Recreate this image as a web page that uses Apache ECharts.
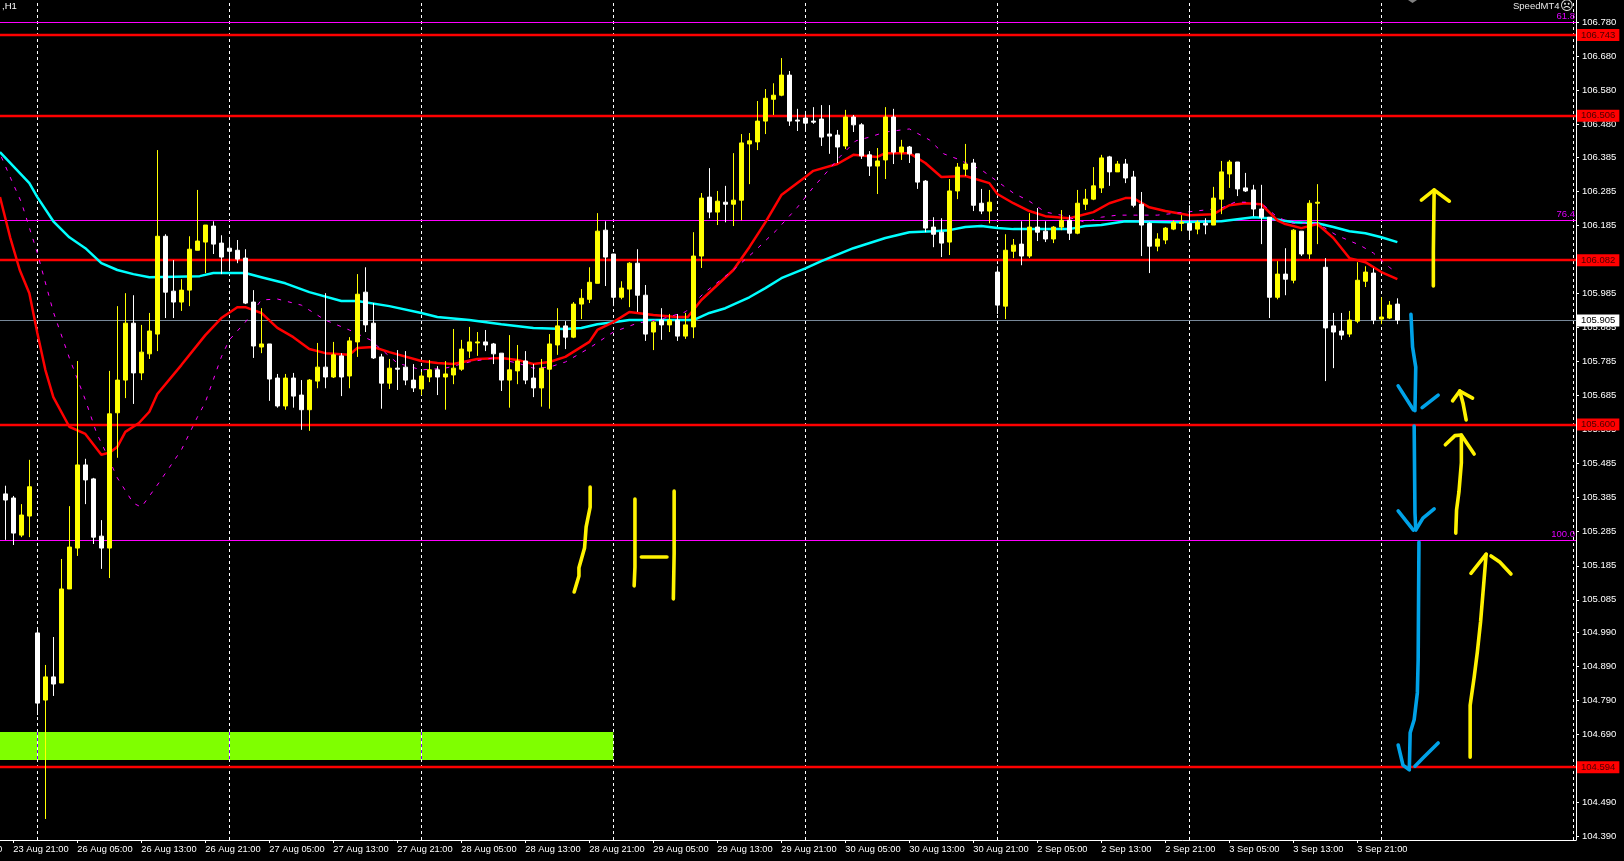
<!DOCTYPE html>
<html><head><meta charset="utf-8">
<style>html,body{margin:0;padding:0;background:#000}#c{width:1624px;height:861px}</style>
<script src="https://cdn.jsdelivr.net/npm/echarts@6/dist/echarts.min.js"></script>
</head><body><div id="c"></div>
<script>
const opens=[105.396,105.384,105.275,105.331,104.988,104.791,104.859,104.841,105.117,105.237,
105.481,105.440,105.272,105.237,105.634,105.730,105.897,105.751,105.807,105.865,
106.152,105.991,105.959,105.994,106.111,106.135,106.182,106.132,106.117,106.111,
106.088,105.959,105.827,105.836,105.736,105.654,105.736,105.686,105.643,105.727,
105.768,105.739,105.801,105.742,105.842,105.988,105.897,105.798,105.721,105.765,
105.768,105.730,105.704,105.739,105.760,105.739,105.745,105.762,105.815,105.839,
105.842,105.836,105.809,105.730,105.757,105.786,105.736,105.707,105.762,105.833,
105.889,105.856,105.953,105.967,106.014,106.170,106.100,105.973,105.997,106.073,
105.979,105.871,105.906,105.892,105.906,105.859,105.886,106.094,106.267,106.223,
106.252,106.246,106.258,106.423,106.429,106.490,106.554,106.566,106.625,106.493,
106.499,106.490,106.496,106.452,106.449,106.417,106.502,106.479,106.391,106.358,
106.376,106.502,106.399,106.414,106.394,106.314,106.179,106.164,106.135,106.285,
106.349,106.367,106.249,106.226,106.047,105.947,106.108,106.129,106.094,106.179,
106.167,106.144,106.179,106.199,106.161,106.246,106.261,106.294,106.385,106.341,
106.364,106.326,106.246,106.190,106.123,106.141,106.173,106.190,106.190,106.173,
106.190,106.185,106.261,106.335,106.370,106.294,106.288,106.232,106.208,105.973,
106.041,106.023,106.167,106.100,106.249,106.061,105.889,105.874,105.865,105.903,
106.020,106.044,105.909,105.912,105.953];
const closes=[105.378,105.281,105.334,105.417,104.782,104.859,104.838,105.117,105.240,105.481,
105.437,105.269,105.237,105.631,105.730,105.897,105.751,105.812,105.874,106.152,
105.988,105.959,105.994,106.114,106.138,106.185,106.129,106.091,106.108,106.085,
105.956,105.830,105.836,105.733,105.654,105.736,105.683,105.643,105.730,105.768,
105.739,105.804,105.739,105.845,105.982,105.892,105.795,105.721,105.765,105.762,
105.730,105.707,105.742,105.760,105.739,105.748,105.765,105.821,105.842,105.842,
105.833,105.807,105.730,105.760,105.786,105.730,105.707,105.765,105.836,105.889,
105.856,105.953,105.970,106.017,106.167,106.091,105.973,106.000,106.073,105.979,
105.865,105.900,105.892,105.906,105.859,105.892,106.094,106.264,106.223,106.255,
106.246,106.258,106.426,106.432,106.490,106.557,106.566,106.625,106.490,106.490,
106.484,106.487,106.443,106.446,106.414,106.502,106.479,106.388,106.358,106.373,
106.502,106.399,106.414,106.394,106.311,106.176,106.158,106.132,106.285,106.355,
106.364,106.243,106.226,106.252,105.950,106.111,106.126,106.094,106.179,106.164,
106.144,106.179,106.199,106.161,106.249,106.261,106.300,106.382,106.341,106.364,
106.323,106.243,106.185,106.123,106.144,106.176,106.193,106.193,106.170,106.193,
106.185,106.264,106.341,106.370,106.291,106.285,106.232,106.208,105.973,106.041,
106.026,106.170,106.100,106.249,106.252,105.883,105.871,105.862,105.906,106.023,
106.047,105.906,105.915,105.950,105.906];
const highs=[105.420,105.390,105.366,105.496,105.003,104.894,104.976,105.205,105.360,105.786,
105.499,105.443,105.319,105.757,105.947,105.985,105.979,105.892,105.927,106.405,
106.158,106.082,106.026,106.152,106.288,106.185,106.196,106.155,106.141,106.141,
106.114,105.994,105.941,105.836,105.748,105.748,105.751,105.730,105.733,105.839,
105.985,105.842,105.809,105.856,106.041,106.061,105.956,105.807,105.792,105.818,
105.815,105.777,105.754,105.789,105.771,105.786,105.880,105.848,105.886,105.871,
105.877,105.839,105.809,105.862,105.833,105.815,105.777,105.792,105.865,105.941,
105.903,105.959,105.997,106.061,106.220,106.196,106.100,106.020,106.076,106.114,
106.009,105.903,105.941,105.924,105.924,105.927,106.164,106.279,106.352,106.285,
106.300,106.396,106.452,106.455,106.549,106.584,106.601,106.675,106.637,106.526,
106.520,106.531,106.537,106.537,106.464,106.523,106.508,106.484,106.402,106.411,
106.531,106.526,106.435,106.417,106.394,106.317,106.208,106.205,106.320,106.367,
106.423,106.379,106.291,106.288,106.064,106.158,106.144,106.196,106.220,106.235,
106.196,106.182,106.229,106.214,106.288,106.291,106.355,106.391,106.388,106.373,
106.379,106.344,106.282,106.193,106.161,106.179,106.199,106.214,106.243,106.199,
106.205,106.297,106.373,106.376,106.370,106.338,106.303,106.303,106.208,106.079,
106.117,106.173,106.167,106.258,106.305,106.088,105.927,105.927,105.933,106.076,
106.064,106.058,105.973,105.962,105.970];
const lows=[105.261,105.246,105.269,105.269,104.747,104.442,104.803,104.841,105.117,105.214,
105.366,105.249,105.176,105.149,105.502,105.677,105.660,105.730,105.792,105.815,
105.912,105.912,105.933,105.947,106.111,106.044,106.100,106.041,106.050,106.073,
105.953,105.795,105.809,105.669,105.649,105.643,105.649,105.584,105.581,105.706,
105.706,105.736,105.683,105.706,105.798,105.871,105.792,105.646,105.704,105.701,
105.715,105.695,105.686,105.724,105.686,105.643,105.718,105.757,105.795,105.801,
105.815,105.777,105.698,105.649,105.718,105.718,105.680,105.652,105.646,105.804,
105.821,105.853,105.909,105.956,106.014,106.006,105.947,105.967,105.944,105.930,
105.845,105.818,105.848,105.871,105.845,105.851,105.853,106.059,106.205,106.185,
106.193,106.182,106.199,106.305,106.405,106.452,106.508,106.563,106.476,106.461,
106.458,106.482,106.417,106.394,106.367,106.408,106.458,106.379,106.329,106.276,
106.320,106.364,106.376,106.367,106.291,106.164,106.120,106.091,106.097,106.261,
106.329,106.226,106.217,106.190,105.924,105.909,106.088,106.067,106.088,106.138,
106.135,106.132,106.170,106.141,106.158,106.229,106.258,106.279,106.300,106.341,
106.308,106.237,106.094,106.044,106.108,106.129,106.170,106.167,106.141,106.158,
106.158,106.185,106.217,106.294,106.270,106.282,106.211,106.129,105.912,105.967,
105.979,106.014,106.094,106.085,106.129,105.727,105.765,105.848,105.856,105.897,
106.003,105.894,105.894,105.909,105.894];

const maCyan=[[-0.67,106.399],[3,106.308],[4,106.267],[6,106.196],[8,106.149],[10,106.117],[12,106.073],[14,106.053],[16,106.041],[18,106.032],[24.3,106.035],[26,106.044],[30,106.044],[32,106.032],[35,106.014],[38,105.988],[42,105.962],[44,105.962],[48,105.947],[52,105.927],[54,105.915],[58,105.906],[62,105.894],[66,105.883],[70,105.880],[72,105.883],[74,105.894],[76,105.900],[78,105.906],[84,105.906],[86,105.906],[88,105.927],[90,105.941],[93,105.973],[95,106.000],[97,106.029],[100,106.058],[102,106.079],[106,106.117],[110,106.147],[113,106.164],[116,106.167],[118,106.170],[120,106.179],[122,106.182],[124,106.176],[126,106.173],[130,106.173],[133,106.173],[135,106.182],[137,106.185],[140,106.196],[146,106.193],[152,106.196],[156,106.208],[158,106.205],[161,106.193],[164,106.190],[166,106.179],[168,106.167],[170,106.161],[172,106.149],[174,106.135]];
const maRed=[[-0.67,106.267],[0.6,106.149],[1.8,106.053],[3,105.985],[4,105.868],[5,105.760],[6,105.680],[8,105.593],[10,105.572],[12,105.511],[13,105.517],[14,105.534],[15,105.578],[16.7,105.604],[18,105.637],[19,105.689],[22,105.774],[25,105.862],[27,105.912],[29,105.944],[30,105.944],[32,105.927],[34,105.883],[36,105.856],[38,105.821],[40,105.809],[43,105.804],[44,105.824],[46,105.827],[48,105.812],[52,105.786],[54,105.780],[56,105.777],[59,105.792],[62,105.795],[64,105.789],[66,105.777],[68,105.783],[70,105.798],[73,105.842],[74,105.877],[76,105.900],[78,105.930],[81,105.921],[84,105.915],[85.3,105.915],[87,105.965],[91,106.053],[93,106.120],[95,106.193],[97,106.273],[100,106.326],[101,106.344],[104,106.364],[106,106.391],[109,106.385],[110,106.396],[113,106.396],[115,106.367],[117,106.326],[120,106.329],[123,106.308],[124,106.276],[126,106.249],[128,106.226],[130,106.211],[133,106.205],[134,106.211],[136,106.223],[138,106.249],[140,106.264],[141,106.264],[143,106.237],[145,106.226],[148,106.214],[151,106.217],[153,106.243],[155,106.249],[157,106.246],[159,106.199],[160,106.188],[162,106.176],[164,106.188],[166,106.147],[168,106.088],[170,106.076],[172,106.047],[174,106.026]];
const maMagenta=[[-0.5,106.385],[0.6,106.326],[2,106.252],[4,106.103],[6,105.930],[8,105.795],[10,105.672],[11.4,105.575],[12.7,105.511],[14,105.443],[16,105.369],[17,105.357],[19,105.422],[22,105.525],[24,105.621],[25,105.665],[27,105.798],[28,105.848],[30,105.900],[32,105.965],[34,105.968],[37,105.950],[40,105.906],[43,105.877],[45.6,105.848],[49,105.780],[52,105.760],[55,105.765],[58,105.783],[61,105.795],[64,105.780],[66,105.765],[68,105.768],[70,105.783],[73,105.824],[76,105.871],[79,105.897],[82,105.909],[85,105.930],[87.3,105.985],[91,106.053],[93.5,106.105],[96.4,106.170],[99,106.237],[101,106.296],[102.7,106.341],[104.3,106.385],[106.3,106.432],[108,106.443],[110,106.458],[113,106.467],[115.5,106.435],[117.3,106.394],[119,106.379],[122,106.347],[124.3,106.308],[126,106.279],[128,106.255],[130,106.223],[132,106.214],[135,106.193],[137,106.208],[139,106.214],[144,106.214],[148.8,106.226],[152,106.235],[153.7,106.252],[155,106.252],[157.3,106.243],[159,106.208],[161,106.190],[164,106.190],[166.4,106.155],[169.3,106.126],[171,106.103],[173,106.061],[174,106.044]];

const redLevels=[106.743,106.506,106.082,105.600,104.594];
const fibLevels=[[106.780,'61.8'],[106.198,'76.4'],[105.261,'100.0']];
const lastPrice=105.905;
const zoneTop=104.697, zoneBottom=104.615, zoneEndBar=76;
const sessionBars=[4,28,52,76,100,124,148,172,196];
const zoneSessionBars=[4,28,52];
const priceTicks=[106.780,106.680,106.580,106.480,106.385,106.285,106.185,106.085,105.985,105.885,105.785,105.685,105.585,105.485,105.385,105.285,105.185,105.085,104.990,104.890,104.790,104.690,104.490,104.390];
const timeLabels=['23 Aug 21:00','26 Aug 05:00','26 Aug 13:00','26 Aug 21:00','27 Aug 05:00','27 Aug 13:00','27 Aug 21:00','28 Aug 05:00','28 Aug 13:00','28 Aug 21:00','29 Aug 05:00','29 Aug 13:00','29 Aug 21:00','30 Aug 05:00','30 Aug 13:00','30 Aug 21:00','2 Sep 05:00','2 Sep 13:00','2 Sep 21:00','3 Sep 05:00','3 Sep 13:00','3 Sep 21:00'];
const timeTickBars=[1,9,17,25,33,41,49,57,65,73,81,89,97,105,113,121,129,137,145,153,161,169];

const blueStrokes=[
[[175.7,105.923],[175.9,105.827],[176.3,105.768],[176.2,105.640]],
[[174.1,105.713],[176.0,105.643]],
[[177.1,105.649],[179.1,105.686]],
[[176.1,105.595],[176.2,105.340],[176.3,105.293]],
[[174.1,105.346],[176.0,105.290]],
[[176.3,105.290],[177.2,105.325],[178.6,105.352]],
[[176.7,105.255],[176.6,104.909],[176.5,104.812],[176.1,104.733],[175.6,104.695],[175.5,104.592]],
[[174.1,104.659],[174.7,104.600],[175.5,104.586]],
[[176.2,104.597],[177.2,104.621],[179.1,104.665]]];
const yellowStrokes=[
[[178.5,106.006],[178.5,106.105],[178.6,106.288]],
[[177.0,106.258],[178.6,106.288],[180.5,106.255]],
[[182.6,105.613],[182.2,105.663],[181.8,105.698]],
[[180.9,105.669],[181.8,105.698],[183.4,105.677]],
[[181.3,105.281],[181.4,105.349],[181.7,105.402],[182.0,105.487],[182.0,105.569]],
[[180.0,105.540],[181.2,105.567],[182.0,105.569],[183.6,105.513]],
[[183.1,104.623],[183.1,104.776],[183.6,104.858],[184.0,104.932],[184.4,105.020],[184.7,105.105],[185.1,105.219]],
[[183.2,105.163],[185.1,105.219]],
[[185.7,105.214],[186.8,105.196],[188.2,105.161]],
[[73.1,105.416],[73.1,105.357],[72.6,105.299],[72.4,105.237],[71.7,105.179],[71.7,105.155],[71.1,105.108]],
[[78.7,105.381],[78.7,105.181],[78.6,105.126]],
[[79.5,105.211],[82.7,105.211]],
[[83.6,105.404],[83.6,105.222],[83.5,105.088]]];

const FONT='"Liberation Sans"';
const candleData=opens.map((o,i)=>[i,o,closes[i],lows[i],highs[i]]);
const priceFmt=v=>v.toFixed(3);
const timeFmt=v=>timeLabels[timeTickBars.indexOf(Math.round(v))]||'';
const xMin=-0.6667;

const strokeSeries=(list,color)=>list.map(pts=>({type:'line',data:pts,symbol:'none',silent:true,z:8,animation:false,
  lineStyle:{color,width:3.6,cap:'round',join:'round'}}));
const maSeries=(data,style)=>({type:'line',data,symbol:'none',silent:true,z:5,animation:false,clip:true,lineStyle:style});

const tag=(bg,fg)=>({show:true,position:'end',distance:1,formatter:p=>priceFmt(p.value),color:fg,backgroundColor:bg,
  fontFamily:FONT,fontSize:9.5,padding:[1,4,1,4]});

const chart=echarts.init(document.getElementById('c'),null,{renderer:'canvas'});
chart.setOption({
  animation:false,backgroundColor:'#000',
  grid:{left:0,right:48,top:0,bottom:21},
  xAxis:{type:'value',min:xMin,max:196.33,
    axisLine:{onZero:false,lineStyle:{color:'#fff',width:1}},
    axisTick:{show:true,length:3,inside:false,customValues:timeTickBars,lineStyle:{color:'#fff'}},
    axisLabel:{customValues:timeTickBars,formatter:timeFmt,color:'#fff',fontFamily:FONT,fontSize:9.3,align:'left',margin:5},
    splitLine:{show:false}},
  yAxis:{type:'value',position:'right',min:104.3803,max:106.8454,
    axisLine:{show:true,onZero:false,lineStyle:{color:'#fff',width:1}},
    axisTick:{show:true,length:3,customValues:priceTicks,lineStyle:{color:'#fff'}},
    axisLabel:{customValues:priceTicks,formatter:priceFmt,color:'#fff',fontFamily:FONT,fontSize:9.5,margin:6},
    splitLine:{show:false}},
  series:[
    {type:'line',data:[],silent:true,animation:false,
      markArea:{silent:true,z:1,animation:false,itemStyle:{color:'#7FFF00',opacity:1},
        data:[[{coord:[xMin,zoneTop]},{coord:[zoneEndBar,zoneBottom]}]]}},
    {type:'line',data:[],silent:true,animation:false,
      markLine:{silent:true,symbol:'none',z:2,animation:false,label:{show:false},precision:3,
        lineStyle:{color:'#fff',type:[3,3],width:1},
        data:sessionBars.map(b=>({xAxis:b}))}},
    {type:'line',data:[],silent:true,animation:false,
      markLine:{silent:true,symbol:'none',z:3,animation:false,label:{show:false},precision:3,
        lineStyle:{color:'#8000FF',type:[3,3],width:1},
        data:zoneSessionBars.map(b=>[{coord:[b,zoneTop]},{coord:[b,zoneBottom]}])}},
    {type:'line',data:[],silent:true,animation:false,
      markLine:{silent:true,symbol:'none',z:4,animation:false,precision:3,
        data:[
          ...fibLevels.map(([v,t])=>({yAxis:v,lineStyle:{color:'#FF00FF',type:'solid',width:1},
            label:{show:true,position:'insideEndTop',distance:1,formatter:t,color:'#E000FF',fontFamily:FONT,fontSize:9.5}})),
          {yAxis:lastPrice,lineStyle:{color:'#778899',type:'solid',width:1},label:tag('#fff','#000')},
          ...redLevels.map(v=>({yAxis:v,lineStyle:{color:'#FF0000',type:'solid',width:2.4},label:tag('#FF0000','#4a0000')}))
        ]}},
    maSeries(maCyan,{color:'#00FFFF',width:2.5}),
    maSeries(maRed,{color:'#FF0000',width:2.5}),
    maSeries(maMagenta,{color:'#FF00FF',width:1,type:[4,7]}),
    {type:'candlestick',data:candleData,barWidth:5,silent:true,z:6,animation:false,
      itemStyle:{color:'#FFFF00',color0:'#FFFFFF',borderColor:'#FFFF00',borderColor0:'#FFFFFF',borderColorDoji:'#FFFFFF',borderWidth:1}},
    ...strokeSeries(blueStrokes,'#00A2E8'),
    ...strokeSeries(yellowStrokes,'#FFF200')
  ],
  graphic:[
    {type:'text',left:2,top:1,silent:true,style:{text:',H1',fill:'#fff',font:'9.5px '+FONT}},
    {type:'text',left:1513,top:1,silent:true,style:{text:'SpeedMT4',fill:'#E8E8E8',font:'9.5px '+FONT}},
    {type:'text',left:1560,top:0,silent:true,style:{text:'\u2639',fill:'#E8E8E8',font:'13px "DejaVu Sans"'}},
    {type:'text',left:-3,top:844,silent:true,style:{text:'0',fill:'#fff',font:'9.5px '+FONT}},
    {type:'polygon',silent:true,shape:{points:[[1408,0],[1417,0],[1412.5,3]]},style:{fill:'#808080'}}
  ]
});
</script></body></html>
